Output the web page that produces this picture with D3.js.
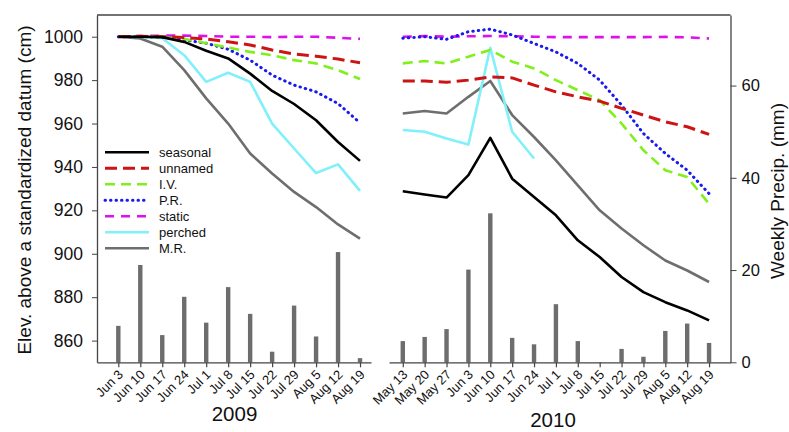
<!DOCTYPE html>
<html lang="en">
<head>
    <meta charset="UTF-8">
    <title>Water level 2009 / 2010</title>
    <script src="https://d3js.org/d3.v7.min.js"></script>
    <style>
        body { margin: 0; background: #fff; }
        svg { display: block; }
        text { font-family: Arial, "Liberation Sans", sans-serif; fill: #111; }
    </style>
</head>
<body>
    <svg width="789" height="432"></svg>

    <script>
        // x categories
        const dates09 = ["Jun 3", "Jun 10", "Jun 17", "Jun 24", "Jul 1", "Jul 8", "Jul 15",
                         "Jul 22", "Jul 29", "Aug 5", "Aug 12", "Aug 19"];
        const dates10 = ["May 13", "May 20", "May 27", "Jun 3", "Jun 10", "Jun 17", "Jun 24",
                         "Jul 1", "Jul 8", "Jul 15", "Jul 22", "Jul 29", "Aug 5", "Aug 12", "Aug 19"];

        // weekly precip (mm)
        const precip09 = [7.9, 21.1, 5.9, 14.2, 8.6, 16.3, 10.5, 2.3, 12.3, 5.6, 23.9, 0.9];
        const precip10 = [4.6, 5.5, 7.2, 20.1, 32.3, 5.3, 3.9, 12.6, 4.6, 0, 2.9, 1.2, 6.8, 8.4, 4.2];

        // elevation (cm), 2009
        const seasonal09 = [1000, 1000, 999.8, 997.6, 993.5, 990, 983, 975, 969, 961.5, 951.5, 942.8];
        const unnamed09  = [1000, 1000.2, 1000, 999.6, 999, 997.7, 996.2, 993.9, 992, 991, 989.7, 988];
        const iv09       = [1000, 1000, 999.8, 999, 997, 995, 993, 991.5, 989.2, 987.7, 984.6, 980.5];
        const pr09       = [1000, 1000, 999.8, 998.5, 997, 994.2, 989.2, 982.3, 977.7, 974.6, 969.2, 960.3];
        const static09   = [1000, 1000.3, 1000.5, 1000.5, 1000.3, 1000, 1000, 999.8, 1000, 1000, 999.5, 999];
        const perched09  = [1000, 1000, 999.3, 991.5, 979.2, 983.4, 979.2, 960, 948.5, 937.2, 941.2, 929];
        const mr09       = [1000, 999.2, 995.4, 984.6, 971.6, 960, 946.2, 937, 928.5, 921.5, 913.5, 907];

        // elevation (cm), 2010
        const seasonal10 = [928.8, 927.3, 925.9, 936.2, 953.4, 934.6, 926.2, 917.7, 906.2, 898.5, 889.3, 882.3, 877.7, 873.9, 869.3];
        const unnamed10  = [979.6, 979.6, 979, 980, 981.5, 981, 977.7, 974.6, 972.3, 970.3, 967, 963.9, 960.8, 958.5, 955];
        const iv10       = [987.7, 988.8, 987.7, 990.8, 993.9, 988.5, 985.4, 980, 975.4, 970.8, 960, 947.7, 938.5, 935.4, 923];
        const pr10       = [999.3, 1000, 998.8, 1002.3, 1003.5, 1000.8, 996.9, 993, 987.7, 980, 968.5, 955.4, 946.2, 938.5, 927.7];
        const static10   = [1000, 1000.3, 1000, 1000.2, 1000.3, 1000.2, 1000, 999.8, 999.8, 999.8, 999.8, 999.8, 999.9, 999.7, 999.2];
        const perched10  = [957, 956.2, 953.1, 950.3, 994.9, 956.2, 943.9];
        const mr10       = [964.6, 965.8, 964.6, 972.3, 979.6, 963.9, 953.8, 943, 931.5, 920, 911.6, 903.9, 896.9, 892.3, 887];

        const elevTicks = [860, 880, 900, 920, 940, 960, 980, 1000];
        const precipTicks = [0, 20, 40, 60];

        const styles = {
            seasonal: { label: "seasonal", color: "#000000", width: 2.6, dash: null },
            unnamed:  { label: "unnamed",  color: "#cc1414", width: 3,   dash: "12,6" },
            iv:       { label: "I.V.",     color: "#7ff01a", width: 2.6, dash: "10,6" },
            pr:       { label: "P.R.",     color: "#1a1aee", width: 3,   dash: "0.5,5", cap: "round" },
            stat:     { label: "static",   color: "#dd10ee", width: 2.6, dash: "9,7" },
            perched:  { label: "perched",  color: "#80f0fa", width: 2.6, dash: null },
            mr:       { label: "M.R.",     color: "#6e6e6e", width: 2.6, dash: null }
        };

        const series09 = [
            ["mr", mr09], ["perched", perched09], ["stat", static09], ["pr", pr09],
            ["iv", iv09], ["unnamed", unnamed09], ["seasonal", seasonal09]
        ];
        const series10 = [
            ["mr", mr10], ["perched", perched10], ["stat", static10], ["pr", pr10],
            ["iv", iv10], ["unnamed", unnamed10], ["seasonal", seasonal10]
        ];

        const svg = d3.select("svg");
        const plotTop = 15, plotBottom = 362.3;

        const yElev = d3.scaleLinear().domain([850, 1010]).range([plotBottom, plotTop]);
        const yPrecip = d3.scaleLinear().domain([0, 75.3]).range([plotBottom, plotTop]);

        const x09 = d3.scaleLinear().domain([-0.97, 11.5]).range([97, 371]);
        const x10 = d3.scaleLinear().domain([-0.63, 14.98]).range([389, 730.5]);

        function panel(x, dates, precip, series) {
            // precip bars
            svg.append("g").selectAll("rect")
                .data(precip)
                .enter().append("rect")
                .attr("x", (d, i) => x(i) - 2.2)
                .attr("width", 4.4)
                .attr("y", d => yPrecip(d))
                .attr("height", d => yPrecip(0) - yPrecip(d))
                .attr("fill", "#6d6d6d");

            // elevation lines
            series.forEach(([key, vals]) => {
                const s = styles[key];
                const line = d3.line()
                    .x((d, i) => x(i))
                    .y(d => yElev(d));
                svg.append("path")
                    .datum(vals)
                    .attr("d", line)
                    .attr("fill", "none")
                    .attr("stroke", s.color)
                    .attr("stroke-width", s.width)
                    .attr("stroke-linejoin", "round")
                    .attr("stroke-linecap", s.cap || "butt")
                    .attr("stroke-dasharray", s.dash);
            });

            // x axis
            const ax = svg.append("g")
                .attr("transform", `translate(0,${plotBottom})`)
                .call(d3.axisBottom(x)
                    .tickValues(d3.range(dates.length))
                    .tickFormat(i => dates[i])
                    .tickSizeInner(5)
                    .tickSizeOuter(0));
            ax.select(".domain").attr("stroke", "#444").attr("stroke-width", 1.3);
            ax.selectAll(".tick line").attr("stroke", "#444").attr("stroke-width", 1.2);
            ax.selectAll(".tick text")
                .attr("font-size", "13px")
                .attr("fill", "#111")
                .attr("text-anchor", "end")
                .attr("dy", null)
                .attr("y", null)
                .attr("transform", "translate(5,13) rotate(-45)");
        }

        panel(x09, dates09, precip09, series09);
        panel(x10, dates10, precip10, series10);

        // frame top
        svg.append("line")
            .attr("x1", 97).attr("x2", 730.5)
            .attr("y1", plotTop).attr("y2", plotTop)
            .attr("stroke", "#444").attr("stroke-width", 1.3);

        // left axis
        const ay = svg.append("g")
            .attr("transform", "translate(97,0)")
            .call(d3.axisLeft(yElev).tickValues(elevTicks).tickFormat(d3.format("d"))
                .tickSizeInner(5).tickSizeOuter(0));
        ay.select(".domain").attr("stroke", "#444").attr("stroke-width", 1.3);
        ay.selectAll(".tick line").attr("stroke", "#444");
        ay.selectAll(".tick text").attr("font-size", "17.5px").attr("fill", "#111").attr("x", -14);

        // right axis
        const ar = svg.append("g")
            .attr("transform", "translate(730.5,0)")
            .call(d3.axisRight(yPrecip).tickValues(precipTicks).tickSizeInner(6).tickSizeOuter(0));
        ar.select(".domain").attr("stroke", "#444").attr("stroke-width", 1.3);
        ar.selectAll(".tick line").attr("stroke", "#444");
        ar.selectAll(".tick text").attr("font-size", "16.5px").attr("fill", "#111").attr("x", 11);

        // axis titles
        svg.append("text")
            .attr("transform", "translate(31,190) rotate(-90)")
            .attr("text-anchor", "middle")
            .attr("font-size", "19px")
            .text("Elev. above a standardized datum (cm)");

        svg.append("text")
            .attr("transform", "translate(784,191) rotate(-90)")
            .attr("text-anchor", "middle")
            .attr("font-size", "19px")
            .text("Weekly Precip. (mm)");

        svg.append("text")
            .attr("x", 234.5).attr("y", 421)
            .attr("text-anchor", "middle")
            .attr("font-size", "20.5px")
            .text("2009");

        svg.append("text")
            .attr("x", 553).attr("y", 427)
            .attr("text-anchor", "middle")
            .attr("font-size", "20.5px")
            .text("2010");

        // legend
        const legendKeys = ["seasonal", "unnamed", "iv", "pr", "stat", "perched", "mr"];
        const legend = svg.append("g").attr("transform", "translate(105,152.3)");
        legendKeys.forEach((k, i) => {
            const s = styles[k];
            const g = legend.append("g").attr("transform", `translate(0,${i * 16})`);
            g.append("line")
                .attr("x1", 0).attr("x2", 44)
                .attr("stroke", s.color)
                .attr("stroke-width", s.width)
                .attr("stroke-linecap", s.cap || "butt")
                .attr("stroke-dasharray", s.dash);
            g.append("text")
                .attr("x", 54).attr("y", 4.5)
                .attr("font-size", "13px")
                .text(s.label);
        });
    </script>
</body>
</html>
